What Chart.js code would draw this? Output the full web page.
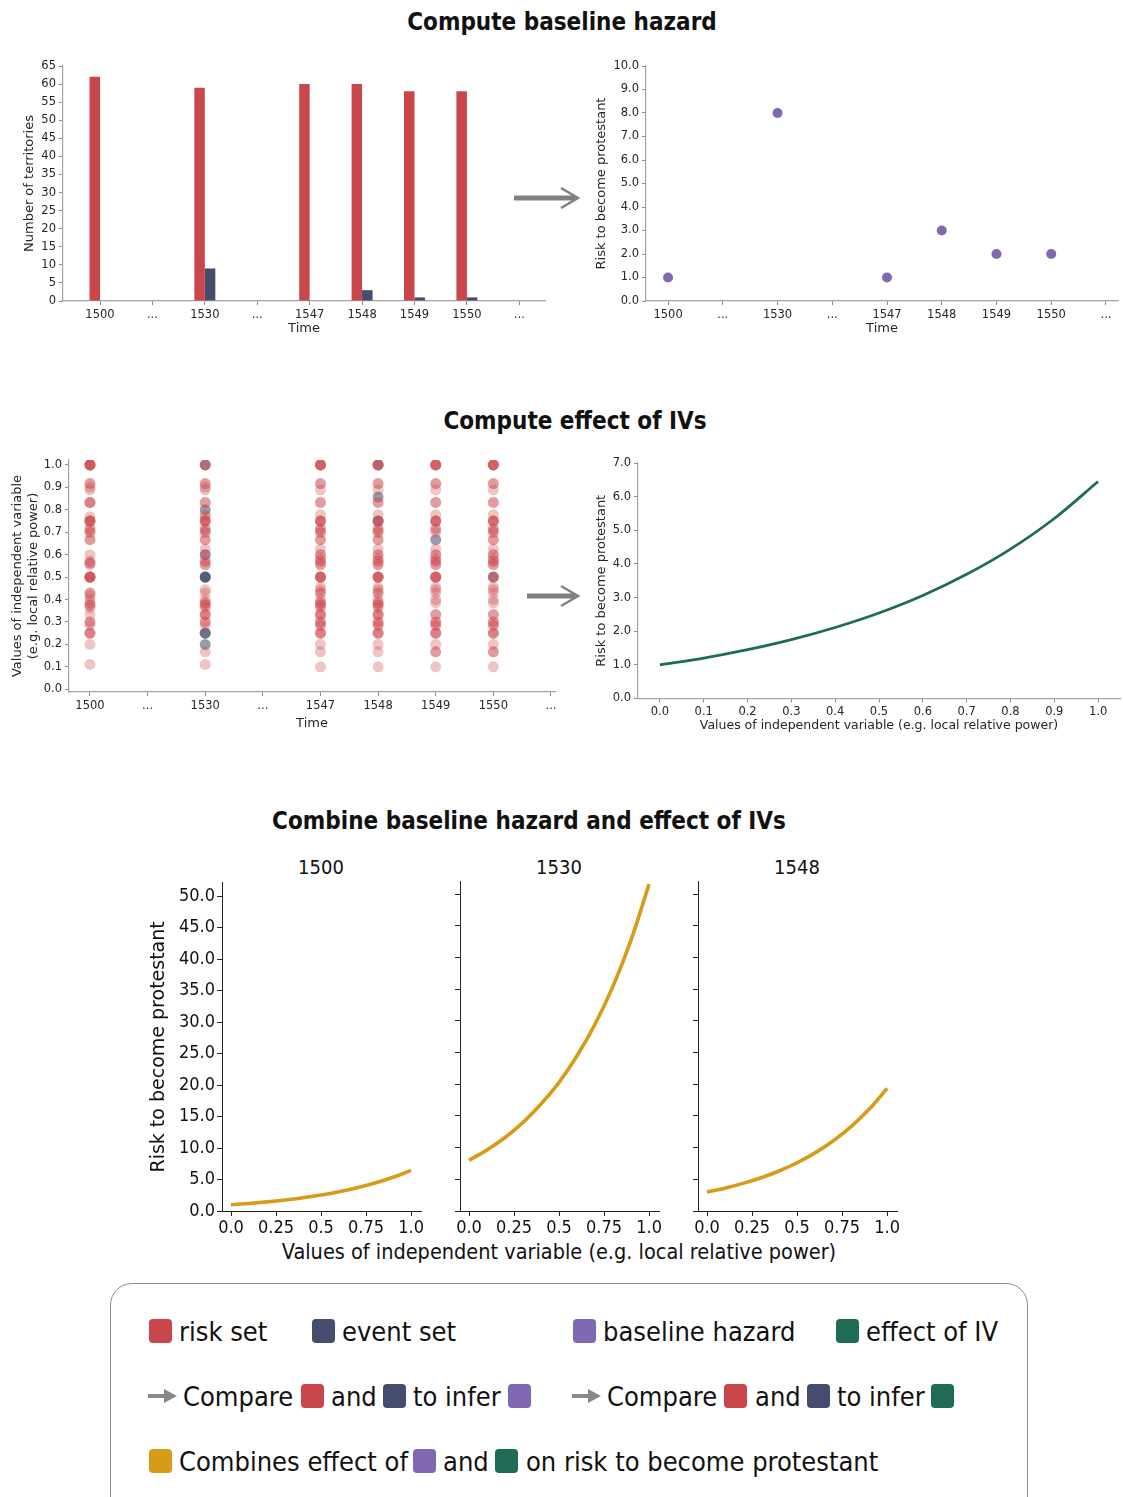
<!DOCTYPE html>
<html>
<head>
<meta charset="utf-8">
<title>Discrete-time event history model</title>
<script src="https://cdn.jsdelivr.net/npm/chart.js@4/dist/chart.umd.min.js"></script>
<style>
  html, body { margin: 0; padding: 0; background: #fff; }
  body { width: 1123px; height: 1497px; position: relative; overflow: hidden; }
  canvas { position: absolute; }
  .section-title {
    position: absolute; transform: translate(-50%, -50%); white-space: nowrap;
    font: bold 24px 'DejaVu Sans Condensed', 'DejaVu Sans', sans-serif; color: #111;
  }
  .panel-title {
    position: absolute; transform: translate(-50%, -50%); white-space: nowrap;
    font: 20px 'DejaVu Sans Condensed', 'DejaVu Sans', sans-serif; color: #111;
  }
  .axis-title {
    position: absolute; transform: translate(-50%, -50%); white-space: nowrap;
    font: 21.5px 'DejaVu Sans Condensed', 'DejaVu Sans', sans-serif; color: #111;
  }
  .legend-box {
    position: absolute; left: 110px; top: 1283px; width: 918px; height: 260px;
    border: 1.5px solid #8e8e8e; border-radius: 22px; box-sizing: border-box;
  }
  .lg-text {
    position: absolute; transform: translateY(-50%); white-space: nowrap; line-height: 1;
    font: 27px 'DejaVu Sans Condensed', 'DejaVu Sans', sans-serif; color: #111;
  }
  .lg-swatch { position: absolute; width: 23px; height: 24px; border-radius: 4px; transform: translateY(-50%); }
  svg { position: absolute; left: 0; top: 0; }
</style>
</head>
<body>

<div class="section-title" style="left:562px; top:22px;">Compute baseline hazard</div>
<div class="section-title" style="left:575px; top:421px;">Compute effect of IVs</div>
<div class="section-title" style="left:529px; top:821px;">Combine baseline hazard and effect of IVs</div>

<div class="panel-title" style="left:321px; top:867px;">1500</div>
<div class="panel-title" style="left:559px; top:867px;">1530</div>
<div class="panel-title" style="left:797px; top:867px;">1548</div>
<div class="axis-title" style="left:559px; top:1251px;">Values of independent variable (e.g. local relative power)</div>

<!-- connecting arrows between the panels and the small arrows of the key -->
<svg width="1123" height="1497" viewBox="0 0 1123 1497">
  <g stroke="#808080" fill="none" stroke-linecap="butt">
    <line x1="514" y1="198" x2="575" y2="198" stroke-width="5"/>
    <polyline points="561,188 578,198 561,208" stroke-width="2.5"/>
    <line x1="527" y1="596" x2="575" y2="596" stroke-width="5"/>
    <polyline points="561,586 578,596 561,606" stroke-width="2.5"/>
  </g>
  <g fill="#8a8a8a">
    <rect x="148" y="1394" width="18" height="4"/>
    <polygon points="164,1389 177,1396 164,1403"/>
    <rect x="572" y="1394" width="18" height="4"/>
    <polygon points="588,1389 601,1396 588,1403"/>
  </g>
</svg>

<div class="legend-box"></div>
<div id="legend"></div>

<script>
// ---- time axis ----
const timeLabels = ['1500', '...', '1530', '...', '1547', '1548', '1549', '1550', '...'];

// ---- territories at risk and territories converting, per period ----
const riskSet  = [62, null, 59, null, 60, 60, 58, 58, null];
const eventSet = [0,  null,  9, null,  0,  3,  1,  1, null];

// ---- baseline hazard per period ----
const baselineHazard = [1, null, 8, null, 1, 3, 2, 2, null];

// ---- IV values (local relative power) of territories in the risk set ----
const ivRisk1500 = [1, 1, 1, 1, 1, 1, 0.917, 0.917, 0.9, 0.889, 0.833, 0.833, 0.833, 0.769,
  0.75, 0.75, 0.75, 0.75, 0.75, 0.714, 0.714, 0.7, 0.7, 0.667, 0.667, 0.6, 0.571, 0.563,
  0.563, 0.556, 0.5, 0.5, 0.5, 0.5, 0.5, 0.5, 0.429, 0.429, 0.417, 0.4, 0.385, 0.375, 0.375,
  0.364, 0.333, 0.3, 0.3, 0.286, 0.25, 0.25, 0.25, 0.2, 0.111];
const ivRisk1530 = [1, 1, 0.917, 0.917, 0.9, 0.889, 0.833, 0.833, 0.778, 0.769, 0.75, 0.75,
  0.75, 0.75, 0.714, 0.714, 0.7, 0.7, 0.667, 0.667, 0.625, 0.6, 0.571, 0.571, 0.556, 0.556,
  0.444, 0.429, 0.4, 0.385, 0.385, 0.375, 0.375, 0.364, 0.333, 0.333, 0.333, 0.3, 0.3,
  0.286, 0.167, 0.111];
const ivRisk1547 = [1, 1, 1, 1, 1, 0.917, 0.917, 0.889, 0.833, 0.833, 0.778, 0.75, 0.75,
  0.75, 0.75, 0.714, 0.714, 0.7, 0.7, 0.667, 0.667, 0.625, 0.6, 0.6, 0.583, 0.571, 0.571,
  0.556, 0.556, 0.5, 0.5, 0.5, 0.5, 0.5, 0.455, 0.444, 0.429, 0.429, 0.4, 0.385, 0.385,
  0.375, 0.375, 0.364, 0.333, 0.333, 0.333, 0.3, 0.3, 0.286, 0.286, 0.25, 0.25, 0.25,
  0.2, 0.167, 0.1];
const ivRisk1548 = [1, 1, 1, 0.917, 0.917, 0.889, 0.833, 0.833, 0.778, 0.75, 0.75, 0.75,
  0.714, 0.714, 0.7, 0.7, 0.667, 0.667, 0.625, 0.6, 0.6, 0.583, 0.571, 0.571, 0.556, 0.556,
  0.5, 0.5, 0.5, 0.5, 0.5, 0.455, 0.444, 0.429, 0.429, 0.4, 0.385, 0.385, 0.375, 0.375,
  0.364, 0.333, 0.333, 0.333, 0.3, 0.3, 0.286, 0.286, 0.25, 0.25, 0.25, 0.2, 0.167, 0.1];
const ivRisk1549 = [1, 1, 1, 1, 1, 0.917, 0.917, 0.889, 0.833, 0.833, 0.778, 0.75, 0.75,
  0.75, 0.75, 0.714, 0.714, 0.7, 0.625, 0.6, 0.6, 0.583, 0.571, 0.571, 0.556, 0.556,
  0.5, 0.5, 0.5, 0.5, 0.5, 0.455, 0.444, 0.429, 0.4, 0.385, 0.333, 0.333, 0.3, 0.3,
  0.286, 0.286, 0.25, 0.25, 0.25, 0.2, 0.167, 0.167, 0.1];
const ivRisk1550 = [1, 1, 1, 1, 1, 0.917, 0.917, 0.889, 0.833, 0.833, 0.778, 0.75, 0.75,
  0.75, 0.75, 0.714, 0.714, 0.7, 0.7, 0.667, 0.667, 0.625, 0.6, 0.6, 0.583, 0.571, 0.571,
  0.556, 0.556, 0.5, 0.5, 0.455, 0.444, 0.429, 0.4, 0.385, 0.333, 0.333, 0.3, 0.3, 0.286,
  0.286, 0.25, 0.25, 0.25, 0.2, 0.167, 0.167, 0.1];

// ---- IV values of territories that converted ----
const ivEvent1530 = [1, 0.8, 0.6, 0.5, 0.5, 0.5, 0.25, 0.25, 0.2];
const ivEvent1548 = [1, 0.857, 0.75];
const ivEvent1549 = [0.667];
const ivEvent1550 = [0.5];

const ivTicks = [0, 0.1, 0.2, 0.3, 0.4, 0.5, 0.6, 0.7, 0.8, 0.9, 1.0];

// ---- effect of the IV on the risk ----
const ivGrid   = [0, 0.1, 0.2, 0.3, 0.4, 0.5, 0.6, 0.7, 0.8, 0.9, 1.0];
const ivEffect = [1.0, 1.2, 1.45, 1.75, 2.11, 2.54, 3.06, 3.69, 4.44, 5.35, 6.45];

// ---- combined risk for three periods ----
const combined1500 = [1.0, 1.2, 1.45, 1.75, 2.11, 2.54, 3.06, 3.69, 4.44, 5.35, 6.45];
const combined1530 = [8.0, 9.64, 11.6, 14.0, 16.9, 20.3, 24.5, 29.5, 35.5, 42.8, 51.6];
const combined1548 = [3.0, 3.61, 4.36, 5.25, 6.32, 7.62, 9.18, 11.06, 13.32, 16.05, 19.35];

const panelXTicks = [0, 0.25, 0.5, 0.75, 1.0];
const panelXLabels = ['0.0', '0.25', '0.5', '0.75', '1.0'];
const panelYTicks = [0, 5, 10, 15, 20, 25, 30, 35, 40, 45, 50];

// ---- colours ----
const RED = '#c9474a', NAVY = '#454c6d', PURPLE = '#8068b3', GREEN = '#1f6b56', GOLD = '#d69c18';

Chart.defaults.font.family = "'DejaVu Sans', sans-serif";
Chart.defaults.color = '#262626';
Chart.defaults.animation = false;
Chart.defaults.plugins.legend.display = false;
Chart.defaults.plugins.tooltip.enabled = false;

function makeCanvas(left, top, w, h) {
  const c = document.createElement('canvas');
  c.width = w; c.height = h;
  c.style.left = left + 'px'; c.style.top = top + 'px';
  c.style.width = w + 'px'; c.style.height = h + 'px';
  document.body.appendChild(c);
  return c;
}

const TICK_FONT = { family: "'DejaVu Sans', sans-serif", size: 11.5 };
const TITLE_FONT = { family: "'DejaVu Sans', sans-serif", size: 13 };

function softGrid() {
  return { display: true, drawOnChartArea: false, drawTicks: true, tickLength: 4, color: '#8a8a8a', offset: false };
}
function softBorder() { return { display: true, color: '#a3a3a3', width: 1.2 }; }

function timeAxis(min, max, height, title) {
  return {
    type: 'linear', min, max, offset: false,
    afterBuildTicks: s => { s.ticks = timeLabels.map((_, i) => ({ value: i })); },
    afterFit: s => { s.height = height; },
    ticks: { callback: v => timeLabels[v], autoSkip: false, maxRotation: 0, font: TICK_FONT, padding: 3 },
    grid: softGrid(), border: softBorder(),
    title: { display: true, text: title, font: TITLE_FONT, padding: { top: 0, bottom: 0 } }
  };
}

// ---------- 1. risk set and event set per period ----------
new Chart(makeCanvas(0, 55, 560, 281), {
  type: 'bar',
  data: {
    datasets: [
      { data: riskSet.map((v, i) => ({ x: i, y: v })), backgroundColor: RED,
        categoryPercentage: 0.4, barPercentage: 1.0 },
      { data: eventSet.map((v, i) => ({ x: i, y: v })), backgroundColor: NAVY,
        categoryPercentage: 0.4, barPercentage: 1.0 }
    ]
  },
  options: {
    responsive: false, devicePixelRatio: 1,
    layout: { padding: { top: 11, right: 15, left: 0, bottom: 0 } },
    scales: {
      x: timeAxis(-0.706, 8.49, 35, 'Time'),
      y: {
        min: 0, max: 65, ticks: { stepSize: 5, font: TICK_FONT, padding: 3 },
        afterFit: s => { s.width = 63; },
        grid: softGrid(), border: softBorder(),
        title: { display: true, text: 'Number of territories', font: TITLE_FONT, padding: { top: 22, bottom: 0 } }
      }
    }
  }
});

// ---------- 2. baseline hazard per period ----------
new Chart(makeCanvas(580, 55, 543, 281), {
  type: 'scatter',
  data: {
    datasets: [{
      data: baselineHazard.map((v, i) => ({ x: i, y: v })).filter(p => p.y !== null),
      backgroundColor: PURPLE, borderWidth: 0, pointRadius: 5
    }]
  },
  options: {
    responsive: false, devicePixelRatio: 1,
    layout: { padding: { top: 11, right: 1, left: 0, bottom: 0 } },
    scales: {
      x: timeAxis(-0.403, 8.22, 35, 'Time'),
      y: {
        min: 0, max: 10, ticks: { stepSize: 1, callback: v => v.toFixed(1), font: TICK_FONT, padding: 3 },
        afterFit: s => { s.width = 66; },
        grid: softGrid(), border: softBorder(),
        title: { display: true, text: 'Risk to become protestant', font: TITLE_FONT, padding: { top: 14, bottom: 0 } }
      }
    }
  }
});

// ---------- 3. IV values of territories per period ----------
const ivRiskByPeriod = [ivRisk1500, null, ivRisk1530, null, ivRisk1547, ivRisk1548, ivRisk1549, ivRisk1550, null];
const ivEventByPeriod = [null, null, ivEvent1530, null, null, ivEvent1548, ivEvent1549, ivEvent1550, null];
function toPoints(byPeriod) {
  const pts = [];
  byPeriod.forEach((vals, i) => { if (vals) vals.forEach(v => pts.push({ x: i, y: v })); });
  return pts;
}

new Chart(makeCanvas(0, 450, 570, 281), {
  type: 'scatter',
  data: {
    datasets: [
      { data: toPoints(ivRiskByPeriod), backgroundColor: 'rgba(201,71,74,0.32)', borderWidth: 0, pointRadius: 5.5 },
      { data: toPoints(ivEventByPeriod), backgroundColor: 'rgba(69,76,109,0.55)', borderWidth: 0, pointRadius: 5.5 }
    ]
  },
  options: {
    responsive: false, devicePixelRatio: 1,
    layout: { padding: { top: 10, right: 15, left: 0, bottom: 0 } },
    scales: {
      x: timeAxis(-0.364, 8.07, 39, 'Time'),
      y: {
        min: -0.012, max: 1.022,
        afterBuildTicks: s => { s.ticks = ivTicks.map(v => ({ value: v })); },
        ticks: { callback: v => v.toFixed(1), font: TICK_FONT, padding: 3 },
        afterFit: s => { s.width = 69; },
        grid: softGrid(), border: softBorder(),
        title: { display: true, text: ['Values of independent variable', '(e.g. local relative power)'],
                 font: TITLE_FONT, padding: { top: 10, bottom: 0 } }
      }
    }
  }
});

// ---------- 4. effect of the IV ----------
new Chart(makeCanvas(580, 450, 543, 283), {
  type: 'line',
  data: {
    datasets: [{
      data: ivGrid.map((x, i) => ({ x, y: ivEffect[i] })),
      borderColor: GREEN, borderWidth: 2.8, pointRadius: 0, cubicInterpolationMode: 'monotone', fill: false
    }]
  },
  options: {
    responsive: false, devicePixelRatio: 1,
    layout: { padding: { top: 13, right: 3, left: 0, bottom: 0 } },
    scales: {
      x: {
        type: 'linear', min: -0.05, max: 1.05,
        afterBuildTicks: s => { s.ticks = ivTicks.map(v => ({ value: v })); },
        afterFit: s => { s.height = 34.5; },
        ticks: { callback: v => v.toFixed(1), font: TICK_FONT, padding: 3, maxRotation: 0 },
        grid: softGrid(), border: softBorder(),
        title: { display: true, text: 'Values of independent variable (e.g. local relative power)',
                 font: { family: "'DejaVu Sans', sans-serif", size: 12.5 }, padding: { top: 0, bottom: 0 } }
      },
      y: {
        min: 0, max: 7, ticks: { stepSize: 1, callback: v => v.toFixed(1), font: TICK_FONT, padding: 3 },
        afterFit: s => { s.width = 58; },
        grid: softGrid(), border: softBorder(),
        title: { display: true, text: 'Risk to become protestant', font: TITLE_FONT, padding: { top: 14, bottom: 0 } }
      }
    }
  }
});

// ---------- 5. combined risk for three periods ----------
const PANEL_TICK_FONT = { family: "'DejaVu Sans Condensed', 'DejaVu Sans', sans-serif", size: 18 };
function panel(left, width, yWidth, rightPad, values, showYLabels, yTitle) {
  new Chart(makeCanvas(left, 870, width, 393), {
    type: 'line',
    data: {
      datasets: [{
        data: ivGrid.map((x, i) => ({ x, y: values[i] })),
        borderColor: GOLD, borderWidth: 3.6, pointRadius: 0, cubicInterpolationMode: 'monotone', fill: false
      }]
    },
    options: {
      responsive: false, devicePixelRatio: 1,
      layout: { padding: { top: 11, right: rightPad, left: 0, bottom: 0 } },
      scales: {
        x: {
          type: 'linear', min: -0.05, max: 1.055,
          afterBuildTicks: s => { s.ticks = panelXTicks.map(v => ({ value: v })); },
          afterFit: s => { s.height = 52; },
          ticks: { callback: v => panelXLabels[panelXTicks.indexOf(v)], font: PANEL_TICK_FONT, padding: 2,
                   maxRotation: 0, color: '#111' },
          grid: { display: true, drawOnChartArea: false, drawTicks: true, tickLength: 5, color: '#222' },
          border: { display: true, color: '#222', width: 1 }
        },
        y: {
          min: 0, max: 52.1,
          afterBuildTicks: s => { s.ticks = panelYTicks.map(v => ({ value: v })); },
          afterFit: s => { s.width = yWidth; },
          ticks: { display: showYLabels, callback: v => v.toFixed(1), font: PANEL_TICK_FONT, padding: 2, color: '#111' },
          grid: { display: true, drawOnChartArea: false, drawTicks: true, tickLength: 5, color: '#222' },
          border: { display: true, color: '#222', width: 1 },
          title: { display: !!yTitle, text: yTitle || '', color: '#111',
                   font: { family: "'DejaVu Sans', sans-serif", size: 19 }, padding: { top: 8, bottom: 0 } }
        }
      }
    }
  });
}
panel(140, 300, 82, 19, combined1500, true, 'Risk to become protestant');
panel(430, 250, 30, 21, combined1530, false, null);
panel(660, 260, 38, 23, combined1548, false, null);

// ---------- key ----------
const legendItems = [
  ['swatch', RED, 149, 1331], ['text', 'risk set', 179, 1331],
  ['swatch', NAVY, 312, 1331], ['text', 'event set', 342, 1331],
  ['swatch', PURPLE, 573, 1331], ['text', 'baseline hazard', 603, 1331],
  ['swatch', GREEN, 836, 1331], ['text', 'effect of IV', 866, 1331],
  ['text', 'Compare', 183, 1396], ['swatch', RED, 301, 1396], ['text', 'and', 331, 1396],
  ['swatch', NAVY, 383, 1396], ['text', 'to infer', 413, 1396], ['swatch', PURPLE, 508, 1396],
  ['text', 'Compare', 607, 1396], ['swatch', RED, 724, 1396], ['text', 'and', 755, 1396],
  ['swatch', NAVY, 807, 1396], ['text', 'to infer', 837, 1396], ['swatch', GREEN, 931, 1396],
  ['swatch', GOLD, 149, 1461], ['text', 'Combines effect of', 179, 1461],
  ['swatch', PURPLE, 413, 1461], ['text', 'and', 443, 1461],
  ['swatch', GREEN, 495, 1461], ['text', 'on risk to become protestant', 526, 1461]
];
const legendRoot = document.getElementById('legend');
legendItems.forEach(([kind, val, x, y]) => {
  const el = document.createElement('div');
  el.style.left = x + 'px';
  el.style.top = y + 'px';
  if (kind === 'swatch') { el.className = 'lg-swatch'; el.style.background = val; }
  else { el.className = 'lg-text'; el.textContent = val; }
  legendRoot.appendChild(el);
});
</script>
</body>
</html>
